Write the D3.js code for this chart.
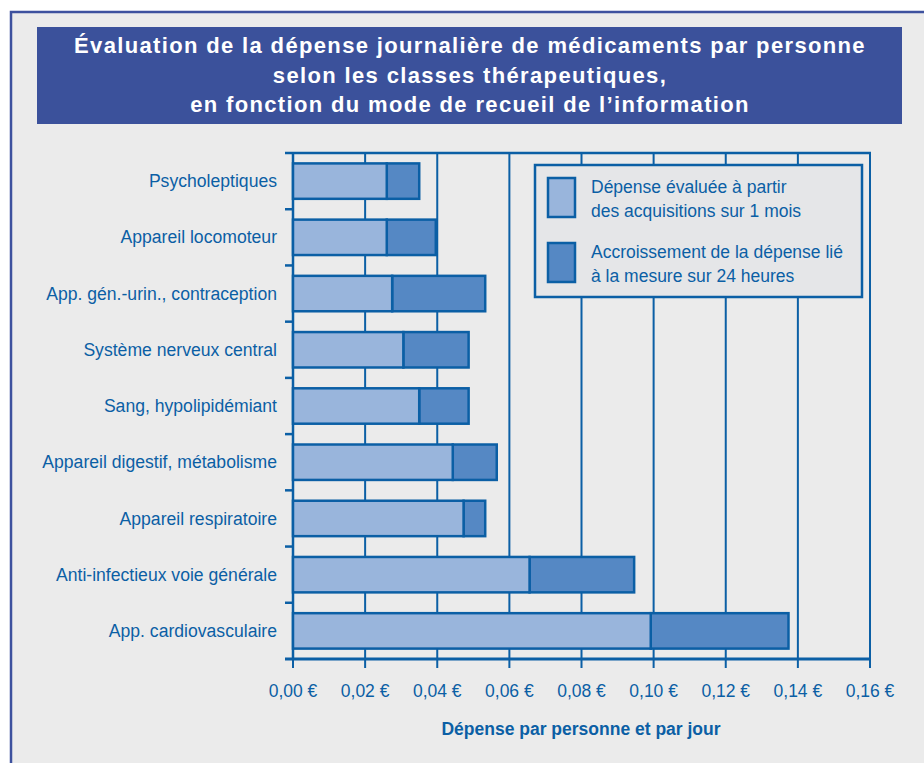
<!DOCTYPE html>
<html>
<head>
<meta charset="utf-8">
<script src="https://cdn.jsdelivr.net/npm/d3@7"></script>
<style>
  body { margin: 0; background: #fff; }
  svg { display: block; font-family: "Liberation Sans", Arial, sans-serif; }
</style>
</head>
<body>
<svg id="chart" width="924" height="763"></svg>
<script>
// categories from top to bottom
var categories = [
	"Psycholeptiques",
	"Appareil locomoteur",
	"App. gén.-urin., contraception",
	"Système nerveux central",
	"Sang, hypolipidémiant",
	"Appareil digestif, métabolisme",
	"Appareil respiratoire",
	"Anti-infectieux voie générale",
	"App. cardiovasculaire"
];
// dépense évaluée sur 1 mois (€)
var monthValues = [0.026, 0.026, 0.0275, 0.0306, 0.035, 0.0443, 0.0473, 0.0656, 0.0992];
// accroissement lié à la mesure sur 24 heures (€)
var extraValues = [0.009, 0.0136, 0.0258, 0.0181, 0.0137, 0.0122, 0.006, 0.029, 0.0382];
var xTicks = [0, 0.02, 0.04, 0.06, 0.08, 0.10, 0.12, 0.14, 0.16];
var legendLabels = [
	["Dépense évaluée à partir", "des acquisitions sur 1 mois"],
	["Accroissement de la dépense lié", "à la mesure sur 24 heures"]
];
var titleLines = [
	"Évaluation de la dépense journalière de médicaments par personne",
	"selon les classes thérapeutiques,",
	"en fonction du mode de recueil de l\u2019information"
];

var blue = "#0b5fa5";
var lightFill = "#99b5dc";
var darkFill = "#5588c4";

var svg = d3.select("#chart");

// panel
svg.append("rect")
	.attr("x", 11).attr("y", 12).attr("width", 940).attr("height", 780)
	.attr("fill", "#ebebeb").attr("stroke", "#3d519e").attr("stroke-width", 2.5);

// title box
svg.append("rect")
	.attr("x", 37).attr("y", 27).attr("width", 865).attr("height", 97)
	.attr("fill", "#3b519b");
svg.selectAll("text.title").data(titleLines)
	.enter().append("text")
	.attr("class", "title")
	.attr("x", 470)
	.attr("y", function (d, i) { return 53 + i * 29.5; })
	.attr("text-anchor", "middle")
	.attr("fill", "#fff")
	.attr("font-weight", "bold")
	.attr("font-size", "22px")
	.attr("letter-spacing", "1.35px")
	.text(function (d) { return d; });

var plotLeft = 293, plotRight = 870, plotTop = 153, plotBottom = 659;

var x = d3.scaleLinear().domain([0, 0.16]).range([plotLeft, plotRight]);
var y = d3.scaleBand().domain(categories).range([plotTop, plotBottom]).paddingInner(0.37).paddingOuter(0.185);
var yb = d3.scaleBand().domain(categories).range([plotTop, plotBottom]); // band edges for ticks

var g = svg.append("g");

// grid lines
g.selectAll("line.grid").data(xTicks)
	.enter().append("line")
	.attr("x1", function (d) { return x(d); })
	.attr("x2", function (d) { return x(d); })
	.attr("y1", plotTop).attr("y2", plotBottom + 9)
	.attr("stroke", blue).attr("stroke-width", 2);

// top line
g.append("line")
	.attr("x1", plotLeft - 8).attr("x2", plotRight + 1).attr("y1", plotTop).attr("y2", plotTop)
	.attr("stroke", blue).attr("stroke-width", 2.5);

// y axis, ticks between categories
g.append("line")
	.attr("x1", plotLeft).attr("x2", plotLeft).attr("y1", plotTop).attr("y2", plotBottom)
	.attr("stroke", blue).attr("stroke-width", 2.5);
g.selectAll("line.ytick").data(categories.slice(1))
	.enter().append("line")
	.attr("x1", plotLeft - 8).attr("x2", plotLeft)
	.attr("y1", function (d) { return yb(d); })
	.attr("y2", function (d) { return yb(d); })
	.attr("stroke", blue).attr("stroke-width", 2.5);

// bars
var rows = g.selectAll("g.row").data(categories)
	.enter().append("g").attr("class", "row");
rows.append("rect")
	.attr("x", function (d, i) { return x(monthValues[i]); })
	.attr("y", function (d) { return y(d); })
	.attr("width", function (d, i) { return x(monthValues[i] + extraValues[i]) - x(monthValues[i]); })
	.attr("height", y.bandwidth())
	.attr("fill", darkFill).attr("stroke", blue).attr("stroke-width", 2.5);
rows.append("rect")
	.attr("x", x(0))
	.attr("y", function (d) { return y(d); })
	.attr("width", function (d, i) { return x(monthValues[i]) - x(0); })
	.attr("height", y.bandwidth())
	.attr("fill", lightFill).attr("stroke", blue).attr("stroke-width", 2.5);

// category labels
g.selectAll("text.cat").data(categories)
	.enter().append("text")
	.attr("class", "cat")
	.attr("x", 277)
	.attr("y", function (d) { return yb(d) + yb.bandwidth() / 2; })
	.attr("dy", "0.35em")
	.attr("text-anchor", "end")
	.attr("fill", blue)
	.attr("font-size", "17.6px")
	.text(function (d) { return d; });

// bottom axis
g.append("line")
	.attr("x1", plotLeft - 8).attr("x2", plotRight).attr("y1", plotBottom).attr("y2", plotBottom)
	.attr("stroke", blue).attr("stroke-width", 3);
g.selectAll("text.xlab").data(xTicks)
	.enter().append("text")
	.attr("class", "xlab")
	.attr("x", function (d) { return x(d); })
	.attr("y", 697)
	.attr("text-anchor", "middle")
	.attr("fill", blue)
	.attr("font-size", "17.5px")
	.text(function (d) { return d3.format(".2f")(d).replace(".", ",") + " \u20ac"; });

svg.append("text")
	.attr("x", 581).attr("y", 735)
	.attr("text-anchor", "middle")
	.attr("fill", blue)
	.attr("font-weight", "bold")
	.attr("font-size", "17.5px")
	.text("Dépense par personne et par jour");

// legend
var lg = svg.append("g");
lg.append("rect")
	.attr("x", 535).attr("y", 165).attr("width", 327).attr("height", 132)
	.attr("fill", "#e5e6e8").attr("stroke", blue).attr("stroke-width", 2.5);
var fills = [lightFill, darkFill];
legendLabels.forEach(function (lines, i) {
	var oy = 178 + i * 65;
	lg.append("rect")
		.attr("x", 548).attr("y", oy).attr("width", 27).attr("height", 39)
		.attr("fill", fills[i]).attr("stroke", blue).attr("stroke-width", 2.5);
	lines.forEach(function (t, j) {
		lg.append("text")
			.attr("x", 591).attr("y", oy + 15 + j * 24)
			.attr("fill", blue)
			.attr("font-size", "17.5px")
			.text(t);
	});
});
</script>
</body>
</html>
